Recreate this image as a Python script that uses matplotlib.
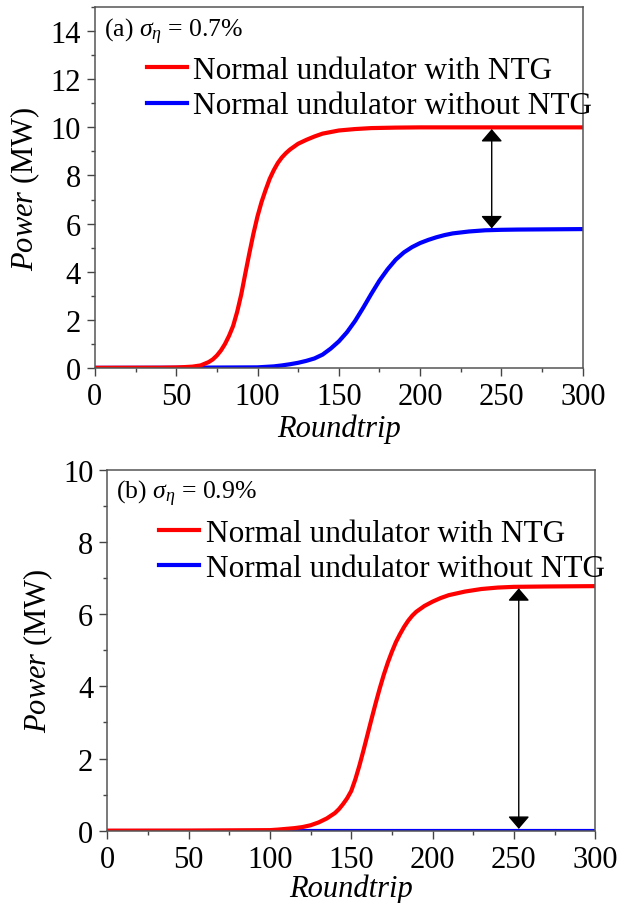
import matplotlib
matplotlib.use('Agg')
import matplotlib.pyplot as plt
from matplotlib.ticker import MultipleLocator

plt.rcParams['font.family'] = ['Liberation Serif', 'DejaVu Serif']
plt.rcParams['mathtext.fontset'] = 'custom'
plt.rcParams['mathtext.rm'] = 'Liberation Serif'
plt.rcParams['mathtext.it'] = 'Liberation Serif:italic'

# (a) sigma_eta = 0.7 %
rt_a_ntg = [0, 40, 50, 55, 60, 65, 70, 72.5, 75, 77.5, 80, 82.5, 85, 87.5, 90,
            92.5, 95, 97.5, 100, 102.5, 105, 107.5, 110, 112.5, 115, 117.5, 120,
            125, 130, 135, 140, 150, 160, 170, 185, 200, 250, 300]
pw_a_ntg = [0, 0.005, 0.015, 0.03, 0.05, 0.1, 0.24, 0.35, 0.51, 0.72, 0.99, 1.33,
            1.74, 2.33, 3.05, 3.92, 4.77, 5.58, 6.3, 6.9, 7.4, 7.86, 8.22, 8.52,
            8.75, 8.93, 9.08, 9.32, 9.48, 9.62, 9.74, 9.87, 9.93, 9.97, 9.99,
            10.0, 10.0, 10.0]
rt_a_no = [0, 50, 100, 105, 110, 115, 120, 125, 130, 135, 140, 145, 150, 155,
           160, 165, 170, 175, 180, 185, 190, 195, 200, 205, 210, 215, 220, 230,
           240, 250, 260, 280, 300]
pw_a_no = [0, 0.005, 0.02, 0.04, 0.06, 0.1, 0.15, 0.21, 0.29, 0.39, 0.55, 0.8,
           1.1, 1.48, 1.95, 2.5, 3.08, 3.63, 4.1, 4.5, 4.8, 5.02, 5.19, 5.32, 5.43,
           5.52, 5.59, 5.67, 5.72, 5.74, 5.75, 5.76, 5.77]

# (b) sigma_eta = 0.9 %
rt_b_ntg = [0, 50, 100, 105, 110, 115, 120, 125, 130, 135, 140, 142.5, 145,
            147.5, 150, 152.5, 155, 157.5, 160, 162.5, 165, 167.5, 170, 172.5,
            175, 177.5, 180, 182.5, 185, 187.5, 190, 195, 200, 205, 210, 220,
            230, 240, 250, 270, 300]
pw_b_ntg = [0, 0.003, 0.015, 0.03, 0.05, 0.07, 0.1, 0.15, 0.23, 0.34, 0.49, 0.6,
            0.74, 0.9, 1.1, 1.42, 1.8, 2.22, 2.66, 3.1, 3.53, 3.94, 4.32, 4.66,
            4.96, 5.23, 5.45, 5.65, 5.82, 5.96, 6.07, 6.23, 6.35, 6.45, 6.53,
            6.63, 6.7, 6.74, 6.76, 6.77, 6.78]
rt_b_no = [0, 300]
pw_b_no = [0, 0]

# arrow positions (roundtrip, low, high)
arrow_a = (244, 5.8, 9.93)
arrow_b = (253, 0.05, 6.72)

fig = plt.figure(figsize=(6.2, 9.04), dpi=100)
ax1 = fig.add_axes([0.153, 0.592, 0.787, 0.399])
ax2 = fig.add_axes([0.173, 0.080, 0.787, 0.399])

panels = [
    (ax1, rt_a_ntg, pw_a_ntg, rt_a_no, pw_a_no, 15, arrow_a, '(a)', '0.7%', 2),
    (ax2, rt_b_ntg, pw_b_ntg, rt_b_no, pw_b_no, 10, arrow_b, '(b)', '0.9%', 0),
]

for ax, x1, y1, x2, y2, ymax, arr, tag, sig, xpad in panels:
    l2, = ax.plot(x2, y2, color='#0000ff', lw=3, label='Normal undulator without NTG')
    l1, = ax.plot(x1, y1, color='#ff0000', lw=3, label='Normal undulator with NTG')
    ax.set_xlim(0, 300)
    ax.set_ylim(0, ymax)
    ax.xaxis.set_major_locator(MultipleLocator(50))
    ax.xaxis.set_minor_locator(MultipleLocator(25))
    ax.yaxis.set_major_locator(MultipleLocator(2))
    ax.yaxis.set_minor_locator(MultipleLocator(1))
    ax.tick_params(which='both', direction='out', top=False, right=False,
                   colors='#444444', labelcolor='black', labelsize=22)
    ax.tick_params(which='major', length=6, width=1, pad=4)
    ax.tick_params(which='minor', length=3, width=1)
    for s in ax.spines.values():
        s.set_color('#555555')
        s.set_linewidth(1.1)
    ax.set_xlabel('Roundtrip', fontsize=22, style='italic', labelpad=xpad)
    ax.set_ylabel('$\\mathit{Power}$ (MW)', fontsize=22, labelpad=6)
    ax.text(0.018, 0.935, tag + ' $\\sigma_{\\eta}$ = ' + sig,
            transform=ax.transAxes, fontsize=18.5, va='center', ha='left')
    ax.legend(handles=[l1, l2], loc='upper left', bbox_to_anchor=(0.107, 0.864),
              frameon=False, fontsize=22.5, handlelength=1.28, handletextpad=0.2,
              labelspacing=0.2, borderpad=0, borderaxespad=0)
    ax.annotate('', xy=(arr[0], arr[1]), xytext=(arr[0], arr[2]),
                arrowprops=dict(arrowstyle='<|-|>,head_length=0.35,head_width=0.3',
                                color='black', lw=1, mutation_scale=22,
                                shrinkA=0, shrinkB=0))

fig.savefig('out.png', dpi=100)
